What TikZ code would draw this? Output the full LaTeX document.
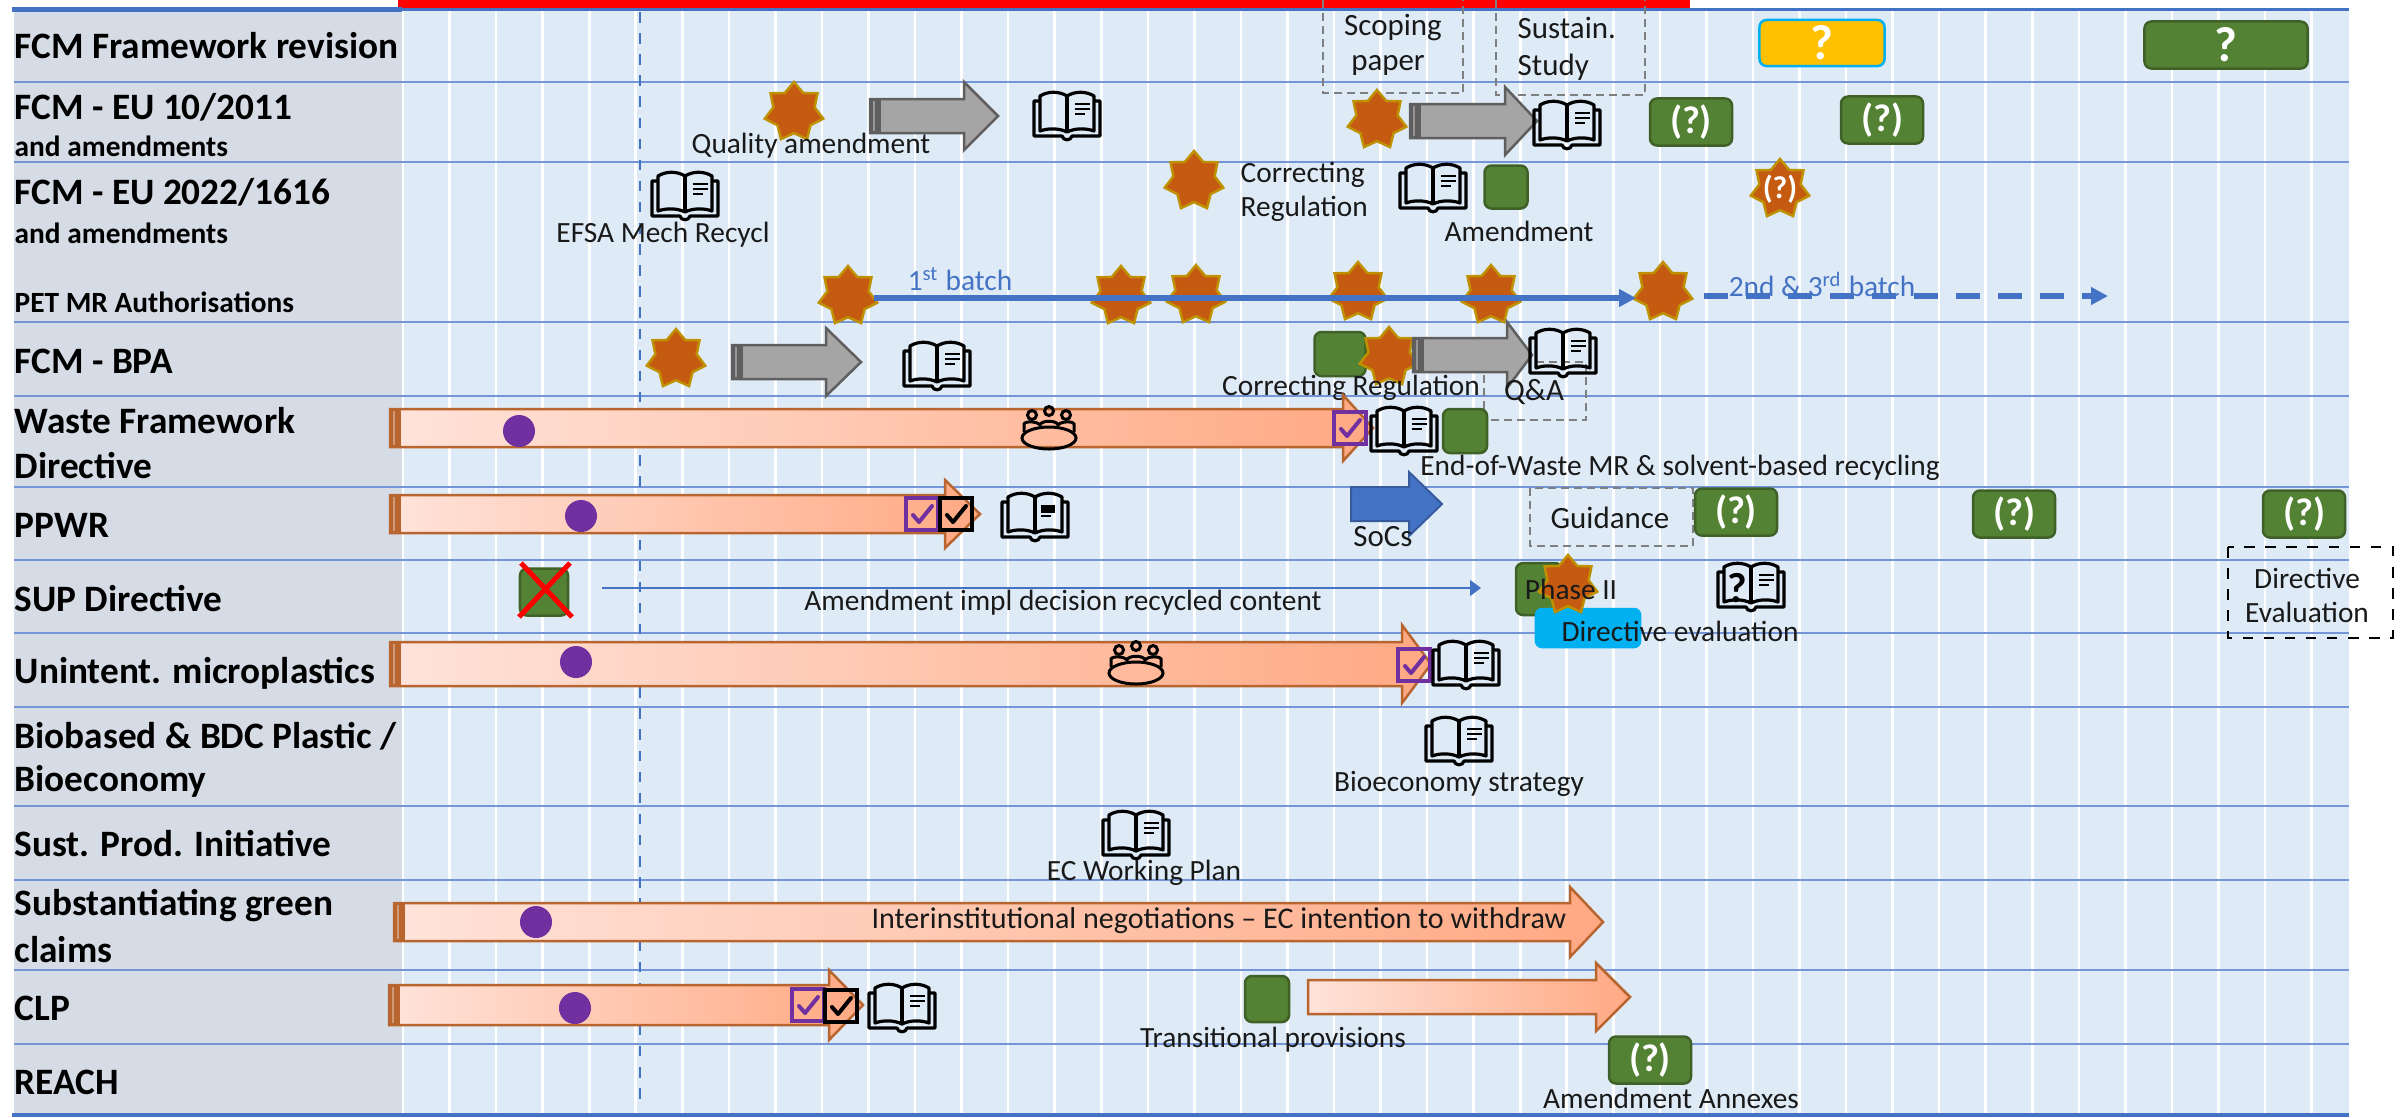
\documentclass[tikz,border=0pt]{standalone}
\usepackage{fontspec}
\setmainfont{Carlito}
\usetikzlibrary{arrows.meta}
\usetikzlibrary{shapes.geometric}

\definecolor{panelgrey}{HTML}{D6DCE5}
\definecolor{chartblue}{HTML}{DEEBF7}
\definecolor{rowline}{HTML}{7496D8}
\definecolor{midblue}{HTML}{4472C4}
\definecolor{starfill}{HTML}{C55A11}
\definecolor{staredge}{HTML}{BF9000}
\definecolor{boxgreen}{HTML}{548235}
\definecolor{boxedge}{HTML}{3F6128}
\definecolor{barlight}{HTML}{FFE3DA}
\definecolor{bardark}{HTML}{FFA983}
\definecolor{baredge}{HTML}{B9652F}
\definecolor{ckpurple}{HTML}{7030A0}
\definecolor{greyfill}{HTML}{A5A5A5}
\definecolor{greyedge}{HTML}{5F5F5F}
\definecolor{dashgrey}{HTML}{7F7F7F}
\definecolor{skyblue}{HTML}{00B0F0}
\definecolor{amber}{HTML}{FFC000}

\tikzset{
  lab/.style={anchor=west, inner sep=0pt, font=\fontsize{10.6}{12}\selectfont\bfseries},
  sublab/.style={anchor=west, inner sep=0pt, font=\fontsize{8.35}{10}\selectfont\bfseries},
  note/.style={inner sep=0pt, font=\fontsize{8.35}{10}\selectfont, text=black!90},
  bignote/.style={note, font=\fontsize{8.8}{10}\selectfont},
  bluenote/.style={note, text=midblue},
  starmark/.style={star, star points=7, star point ratio=1.42, minimum size=.6cm, inner sep=0pt, fill=starfill, draw=staredge, line width=.025cm},
  gbox/.style={rectangle, rounded corners=.07cm, fill=boxgreen, draw=boxedge, line width=.025cm, inner sep=0pt},
  qbox/.style={gbox, minimum width=.82cm, minimum height=.47cm, text=white, font=\fontsize{11}{12}\selectfont\bfseries},
  dashbox/.style={draw=dashgrey, dashed, line width=.02cm, dash pattern=on .08cm off .05cm},
  greyarrow/.style={fill=greyfill, draw=greyedge, line width=.025cm},
  procarrow/.style={left color=barlight, right color=bardark, draw=baredge, line width=.025cm},
  procdot/.style={circle, fill=ckpurple, minimum size=.32cm, inner sep=0pt},
  bookframe/.pic={
    \draw[line width=.032cm, line join=round] (-27,-20) .. controls (-19,-25) and (-8,-25) .. (0,-20) .. controls (8,-25) and (19,-25) .. (27,-20) -- (27,15) .. controls (19,12) and (8,12) .. (0,16) .. controls (-8,12) and (-19,12) .. (-27,15) -- cycle;
    \draw[line width=.032cm] (0,-20) -- (0,16);
    \draw[line width=.032cm, line join=round] (-27,-15) -- (-33,-15) -- (-33,20) -- (-5,20) .. controls (-4,25) and (4,25) .. (5,20) -- (33,20) -- (33,-15) -- (27,-15);
  },
  openbook/.pic={
    \pic {bookframe};
    \foreach \ln/\lw in {-12/15, -7/15, -2/10}{
      \draw[line width=.025cm] (8,\ln) -- ++(\lw,0);
    }
  },
  blockbook/.pic={
    \pic {bookframe};
    \fill (6,-12) rectangle (20,-4);
    \draw[line width=.02cm] (6,-1) -- (16,-1);
  },
  gathering/.pic={
    \draw[line width=.03cm] (0,11) ellipse (27 and 11);
    \foreach \hx/\hy in {-17/-12, 0/-16, 17/-12}{
      \draw[line width=.03cm] (\hx,\hy) circle (4.5);
    }
    \draw[line width=.03cm] (-25,5) -- (-25,-3) .. controls (-24,-6) and (-12,-6) .. (-9,-2) .. controls (-8,-7) and (8,-7) .. (9,-2) .. controls (12,-6) and (24,-6) .. (25,-3) -- (25,5);
  },
  checkbox/.pic={
    \draw[#1, line width=.045cm] (-16,-16) rectangle (16,16);
    \draw[#1, line width=.04cm, line cap=round, line join=round] (-9,1) -- (-3,8) -- (10,-8);
  }
}

\newcommand{\blockarrow}[7][]{%
  \path[#1] (#2,{#5-#6}) -- (#3,{#5-#6}) -- (#3,{#5-#7}) -- (#4,#5) -- (#3,{#5+#7}) -- (#3,{#5+#6}) -- (#2,{#5+#6}) -- cycle;
}
\newcommand{\tailband}[4]{%
  \fill[#4] (#1,{#2-#3}) rectangle ({#1+11},{#2+#3});
  \draw[white, opacity=.35, line width=.012cm] ({#1+4},{#2-#3+2}) -- ({#1+4},{#2+#3-2});
}

\begin{document}
\begin{tikzpicture}[x=.01cm, y=-.01cm]
  \useasboundingbox (0,0) rectangle (2407,1117);
  \fill[chartblue] (402,9) rectangle (2349,1116);
  \fill[panelgrey] (14,10) rectangle (402,1116);
  \foreach \k in {0,...,41}{
    \draw[white, line width=.026cm] ({403+46.55*\k},10) -- ({403+46.55*\k},1114);
  }
  \foreach \y in {82,162,322,396,487,560,633,707,806,880,970,1044}{
    \draw[rowline, line width=.016cm] (14,\y) -- (2349,\y);
  }
  \draw[midblue, dashed, line width=.012cm] (640,12) -- (640,1105);
  \fill[red] (398,0) rectangle (1690,8);
  \draw[midblue, line width=.05cm] (12,9) -- (402,9);
  \draw[midblue, line width=.03cm] (402,9) -- (2349,9);
  \draw[midblue, line width=.04cm] (12,1115) -- (2349,1115);

  \foreach \nm/\y/\txt in {fcmrev/46/FCM Framework revision, eu2011/107/{FCM - EU 10/2011}, eu2022/192/{FCM - EU 2022/1616}, bpa/361/FCM - BPA, wfd/421/Waste Framework, wfdb/466/Directive, ppwr/525/PPWR, sup/599/SUP Directive, micro/673/Unintent. microplastics, biob/736/{Biobased \& BDC Plastic /}, bioc/781/Bioeconomy, spi/844/Sust. Prod. Initiative, green/906/Substantiating green, greenb/950/claims, clp/1008/CLP, reach/1082/REACH}{
    \node[lab] (\nm) at (14,\y) {\txt};
  }
  \node[sublab] (eu2011b) at (14,146) {and amendments};
  \node[sublab] (eu2022b) at (14,233) {and amendments};
  \node[sublab] (petmr) at (14,302) {PET MR Authorisations};

  \draw[dashbox] (1323,0) -- (1323,93) -- (1463,93) -- (1463,0);
  \draw[dashbox] (1496,0) -- (1496,95) -- (1645,95) -- (1645,0);
  \node[bignote] (scop) at (1393,28) {Scoping};
  \node[bignote] (scopb) at (1388,65) {paper};
  \node[bignote, anchor=west] (sust) at (1517,28) {Sustain.};
  \node[bignote, anchor=west] (sustb) at (1517,67) {Study};
  \node[gbox, fill=amber, draw=skyblue, minimum width=1.25cm, minimum height=.46cm, text=white, font=\fontsize{14}{14}\selectfont\bfseries] (revq) at (1822,43) {?};
  \node[gbox, minimum width=1.63cm, minimum height=.47cm, text=white, font=\fontsize{14}{14}\selectfont\bfseries] (revr) at (2226,45) {?};

  \node[starmark] (st1) at (794,112) {};
  \blockarrow[greyarrow]{870}{964}{998}{116}{17}{34}
  \tailband{870}{116}{17}{greyedge}
  \pic (bk1) at (1067,116) {openbook};
  \node[note] (qual) at (811,146) {Quality amendment};
  \node[starmark] (st2) at (1377,120) {};
  \blockarrow[greyarrow]{1410}{1505}{1537}{121}{17}{34}
  \tailband{1410}{121}{17}{greyedge}
  \pic (bk2) at (1567,125) {openbook};
  \node[qbox] (q1) at (1691,122) {(?)};
  \node[qbox] (q2) at (1882,120) {(?)};

  \pic (bk3) at (685,196) {openbook};
  \node[note] (efsa) at (663,235) {EFSA Mech Recycl};
  \node[starmark] (st3) at (1194,181) {};
  \node[note, anchor=west] (corr) at (1240,175) {Correcting};
  \node[note, anchor=west] (corrb) at (1240,209) {Regulation};
  \pic (bk4) at (1433,188) {openbook};
  \node[gbox, minimum width=.43cm, minimum height=.43cm] (amdbox) at (1506,187) {};
  \node[note] (amd) at (1519,231) {Amendment};
  \node[starmark] (st4) at (1780,189) {};
  \node[inner sep=0pt, text=white, font=\fontsize{9}{10}\selectfont\bfseries] (st4q) at (st4) {(?)};

  \node[starmark] (st5) at (848,296) {};
  \node[starmark] (st6) at (1121,296) {};
  \node[starmark] (st7) at (1196,295) {};
  \node[starmark] (st8) at (1358,292) {};
  \node[starmark] (st9) at (1491,295) {};
  \node[starmark] (st10) at (1663,292) {};
  \coordinate (batchend) at (1636,298);
  \coordinate (dashstart) at (1704,296);
  \coordinate (dashend) at (2108,296);
  \draw[midblue, line width=.06cm, -{Triangle[length=.17cm, width=.17cm]}] (st5.east |- batchend) -- (batchend);
  \draw[midblue, line width=.06cm, dash pattern=on .24cm off .18cm, -{Triangle[length=.17cm, width=.17cm]}] (dashstart) -- (dashend);
  \node[bluenote] (batch1) at (960,279) {1\textsuperscript{st} batch};
  \node[bluenote] (batch2) at (1822,284) {2nd \& 3\textsuperscript{rd} batch};

  \node[starmark] (st11) at (676,359) {};
  \blockarrow[greyarrow]{732}{826}{861}{362}{17}{34}
  \tailband{732}{362}{17}{greyedge}
  \pic (bk5) at (937,366) {openbook};
  \draw[dashbox] (1484,362) rectangle (1586,420);
  \node[gbox, minimum width=.51cm, minimum height=.44cm] (bpabox) at (1340,354) {};
  \node[starmark] (st12) at (1389,357) {};
  \blockarrow[greyarrow]{1413}{1507}{1532}{355}{17}{33}
  \tailband{1413}{355}{17}{greyedge}
  \pic (bk6) at (1563,353) {openbook};
  \node[note] (corrbpa) at (1351,388) {Correcting Regulation};
  \node[bignote] (qanda) at (1534,392) {Q\&A};

  \blockarrow[procarrow]{390}{1343}{1373}{428}{19}{33}
  \tailband{390}{428}{19}{baredge}
  \node[procdot] (dot1) at (519,431) {};
  \pic at (1049,427) {gathering};
  \pic at (1350,428) {checkbox=ckpurple};
  \pic (bk7) at (1404,431) {openbook};
  \node[gbox, minimum width=.44cm, minimum height=.44cm] (wastebox) at (1465,431) {};
  \node[note] (eow) at (1680,468) {End-of-Waste MR \& solvent-based recycling};

  \blockarrow[procarrow]{390}{945}{980}{514}{19}{34}
  \tailband{390}{514}{19}{baredge}
  \node[procdot] (dot2) at (581,516) {};
  \pic at (922,514) {checkbox=ckpurple};
  \pic at (956,514) {checkbox=black};
  \pic (bk8) at (1035,517) {blockbook};
  \blockarrow[fill=midblue, draw=midblue!80!black, line width=.02cm]{1351}{1409}{1442}{504}{17}{32}
  \node[bignote] (socs) at (1383,537) {SoCs};
  \draw[dashbox] (1530,488) rectangle (1693,546);
  \node[bignote] (guid) at (1610,518) {Guidance};
  \node[qbox] (q3) at (1736,512) {(?)};
  \node[qbox] (q4) at (2014,514) {(?)};
  \node[qbox] (q5) at (2304,514) {(?)};

  \node[gbox, minimum width=.48cm, minimum height=.47cm] (supbox) at (544,592) {};
  \draw[red, line width=.05cm] (519,617) -- (570,563);
  \draw[red, line width=.05cm] (521,563) -- (572,617);
  \coordinate (amdstart) at (602,588);
  \coordinate (amdend) at (1481,588);
  \draw[midblue, line width=.012cm, -{Triangle[length=.11cm, width=.16cm]}] (amdstart) -- (amdend);
  \node[note] (impl) at (1063,603) {Amendment impl decision recycled content};
  \node[gbox, minimum width=.46cm, minimum height=.52cm] (phbox) at (1539,589) {};
  \node[gbox, rounded corners=.06cm, fill=skyblue, draw=skyblue, minimum width=1.04cm, minimum height=.38cm] (evbox) at (1588,628) {};
  \node[starmark] (st13) at (1568,585) {};
  \node[note] (phase) at (1571,589) {Phase II};
  \node[note] (direv) at (1680,631) {Directive evaluation};
  \pic (bk9) at (1751,587) {openbook};
  \node[inner sep=0pt, font=\fontsize{12}{12}\selectfont\bfseries] (bkq) at (1737,588) {?};
  \draw[black, dashed, line width=.02cm] (2228,547) rectangle (2393,638);
  \node[note] (dirbox) at (2307,578) {Directive};
  \node[note] (dirboxb) at (2307,612) {Evaluation};

  \blockarrow[procarrow]{390}{1402}{1431}{664}{22}{39}
  \tailband{390}{664}{22}{baredge}
  \node[procdot] (dot3) at (576,662) {};
  \pic at (1136,662) {gathering};
  \pic at (1414,665) {checkbox=ckpurple};
  \pic (bk10) at (1466,665) {openbook};

  \pic (bk11) at (1459,741) {openbook};
  \node[note] (bioec) at (1459,784) {Bioeconomy strategy};
  \pic (bk12) at (1136,835) {openbook};
  \node[note] (ecwp) at (1144,873) {EC Working Plan};

  \blockarrow[procarrow]{394}{1570}{1603}{922}{19}{35}
  \tailband{394}{922}{19}{baredge}
  \node[procdot] (dot4) at (536,922) {};
  \node[note, font=\fontsize{8.55}{10}\selectfont] (inter) at (1219,921) {Interinstitutional negotiations -- EC intention to withdraw};

  \blockarrow[procarrow]{389}{829}{863}{1005}{20}{35}
  \tailband{389}{1005}{20}{baredge}
  \node[procdot] (dot5) at (575,1008) {};
  \pic at (808,1005) {checkbox=ckpurple};
  \pic at (841,1006) {checkbox=black};
  \pic (bk13) at (902,1008) {openbook};
  \node[gbox, minimum width=.44cm, minimum height=.46cm] (clpbox) at (1267,999) {};
  \blockarrow[procarrow]{1308}{1596}{1630}{997}{17}{34}
  \node[note] (trans) at (1273,1040) {Transitional provisions};
  \node[qbox] (q6) at (1650,1060) {(?)};
  \node[note] (annex) at (1671,1098) {Amendment Annexes};
\end{tikzpicture}
\end{document}
